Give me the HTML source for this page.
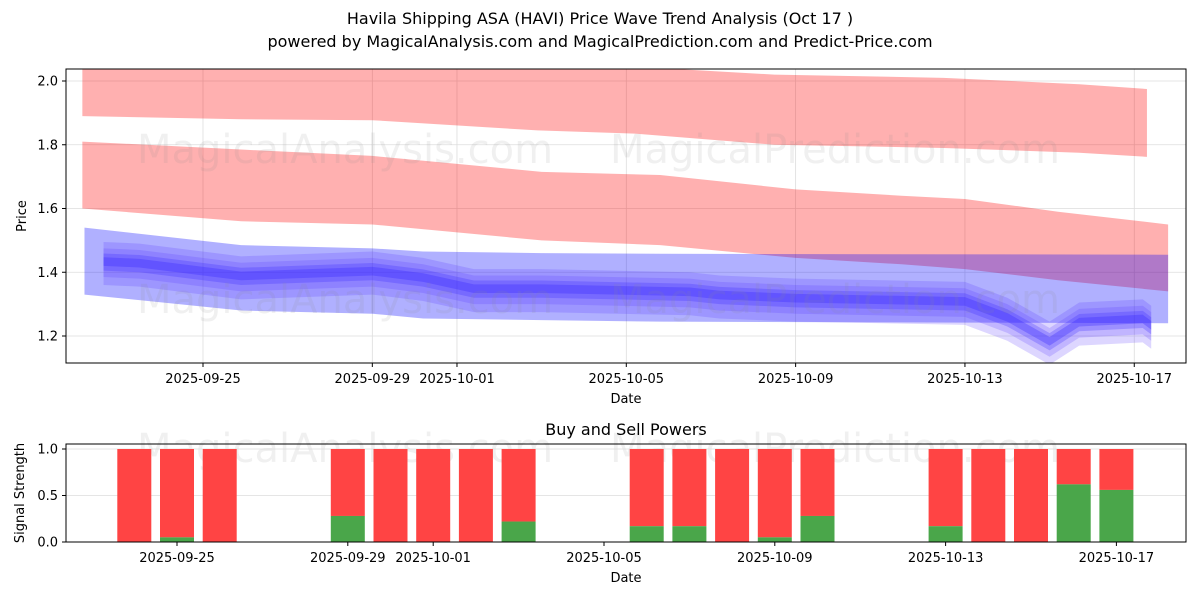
<!DOCTYPE html>
<html><head><meta charset="utf-8"><style>
body{margin:0;background:#fff}
svg{font-family:"DejaVu Sans","Liberation Sans",sans-serif}
</style></head><body>
<svg id="c" width="1200" height="600" xmlns="http://www.w3.org/2000/svg"></svg>
<script>
// ---- data ----
const priceTicks=[1.2,1.4,1.6,1.8,2.0];
const dateTicks=["2025-09-25","2025-09-29","2025-10-01","2025-10-05","2025-10-09","2025-10-13","2025-10-17"];
const dateTickDays=[0,4,6,10,14,18,22];
// bands: day offsets from 2025-09-25, upper and lower prices
const redUpDays=[-2.85,0.9,4,7.9,10.2,13.5,17.5,20.7,22.3];
const redUpTop=[2.045,2.045,2.045,2.045,2.045,2.02,2.01,1.99,1.975];
const redUpBot=[1.89,1.88,1.877,1.845,1.835,1.80,1.79,1.775,1.762];
const redLoDays=[-2.85,0.9,4,8,10.8,14,16.5,18,20.2,22.8];
const redLoTop=[1.81,1.785,1.765,1.715,1.705,1.66,1.64,1.63,1.59,1.55];
const redLoBot=[1.6,1.56,1.55,1.50,1.485,1.445,1.425,1.41,1.375,1.34];
const blueDays=[-2.8,0.9,4,5.2,8,10.8,22.8];
const blueTop=[1.54,1.485,1.475,1.465,1.46,1.458,1.455];
const blueBot=[1.33,1.28,1.27,1.255,1.25,1.245,1.24];
const midDays=[-2.35,-1.5,0.9,4,5.2,6.4,8,11.5,12.2,14,18,19,20,20.7,22.2,22.4];
const midVal=[1.435,1.43,1.39,1.405,1.385,1.35,1.35,1.34,1.33,1.32,1.31,1.26,1.185,1.245,1.255,1.235];
// buy/sell
const barDays=[-1,0,1,4,5,6,7,8,11,12,13,14,15,18,19,20,21,22];
const buyVals=[0,0.05,0,0.28,0,0,0,0.22,0.17,0.17,0,0.05,0.28,0.17,0,0,0.62,0.56];
const sigTicks=[0,0.5,1.0];

const NS="http://www.w3.org/2000/svg";
const svg=document.getElementById('c');
function el(t,a,p){const e=document.createElementNS(NS,t);for(const k in a)e.setAttribute(k,a[k]);(p||svg).appendChild(e);return e;}
function tx(x,y,s,a){const e=el('text',Object.assign({x:x,y:y,'font-size':13,fill:'#000'},a||{}));e.textContent=s;return e;}
const X1=d=>203+d*42.33;
const Y1=v=>336-(v-1.2)*318.75;
const X2=d=>177+d*42.7;
const Y2=v=>542-v*93;

let t=tx(600,24,"Havila Shipping ASA (HAVI) Price Wave Trend Analysis (Oct 17 )",{'font-size':16,'text-anchor':'middle'});

t=tx(600,47,"powered by MagicalAnalysis.com and MagicalPrediction.com and Predict-Price.com",{'font-size':16,'text-anchor':'middle'});


const g1=el('g',{});

priceTicks.forEach(v=>{el('line',{x1:66,x2:1186,y1:Y1(v),y2:Y1(v),stroke:'#ddd','stroke-width':0.8},g1);});
dateTickDays.forEach(d=>{el('line',{x1:X1(d),x2:X1(d),y1:69,y2:363,stroke:'#ddd','stroke-width':0.8},g1);});

const clip=el('clipPath',{id:'cp'});el('rect',{x:66,y:69,width:1120,height:294},clip);
const plot=el('g',{'clip-path':'url(#cp)'});
function band(days,top,bot,fill,op,name){
  let pts=days.map((d,i)=>X1(d)+','+Y1(top[i]));
  for(let i=days.length-1;i>=0;i--)pts.push(X1(days[i])+','+Y1(bot[i]));
  const p=el('polygon',{points:pts.join(' '),fill:fill,'fill-opacity':op},plot);
  
}
band(redUpDays,redUpTop,redUpBot,'#ff0000',0.31,'red-band-upper');
band(redLoDays,redLoTop,redLoBot,'#ff0000',0.31,'red-band-lower');
band(blueDays,blueTop,blueBot,'#0000ff',0.31,'blue-band-wide');
[[0.075,0.15],[0.05,0.15],[0.03,0.2],[0.015,0.25]].forEach((w,k)=>{
  band(midDays,midVal.map(v=>v+w[0]*0.8),midVal.map(v=>v-w[0]),k<2?'#5533ff':'#3322ff',w[1]+0.05,'blue-band-inner-'+k);
});

[[345,163,"MagicalAnalysis.com"],[835,163,"MagicalPrediction.com"],[345,313,"MagicalAnalysis.com"],[835,313,"MagicalPrediction.com"],[345,462,"MagicalAnalysis.com"],[835,462,"MagicalPrediction.com"]].forEach(w=>{
  const e=tx(w[0],w[1],w[2],{'font-size':40,'text-anchor':'middle',fill:'#888','fill-opacity':0.13});
  
});

el('rect',{x:66,y:69,width:1120,height:294,fill:'none',stroke:'#000','stroke-width':1});
priceTicks.forEach(v=>{el('line',{x1:62,x2:66,y1:Y1(v),y2:Y1(v),stroke:'#000'});
  const e=tx(58,Y1(v)+4.5,v.toFixed(1),{'text-anchor':'end'});});
dateTickDays.forEach((d,i)=>{el('line',{x1:X1(d),x2:X1(d),y1:363,y2:367,stroke:'#000'});
  const e=tx(X1(d),383,dateTicks[i],{'text-anchor':'middle'});});
t=tx(626,403,"Date",{'text-anchor':'middle'});
t=tx(26,216,"Price",{'text-anchor':'middle',transform:'rotate(-90 26 216)'});

t=tx(626,435,"Buy and Sell Powers",{'font-size':16,'text-anchor':'middle'});
sigTicks.forEach(v=>{el('line',{x1:66,x2:1186,y1:Y2(v),y2:Y2(v),stroke:'#ddd','stroke-width':0.8});});
barDays.forEach((d,i)=>{
  const x=X2(d)-17;
  const r=el('rect',{x:x,y:Y2(1),width:34,height:Y2(buyVals[i])-Y2(1),fill:'#ff4444'});
  
  const g=el('rect',{x:x,y:Y2(buyVals[i]),width:34,height:Y2(0)-Y2(buyVals[i]),fill:'#4aa64a'});
  
});
el('rect',{x:66,y:444,width:1120,height:98,fill:'none',stroke:'#000','stroke-width':1});
sigTicks.forEach(v=>{el('line',{x1:62,x2:66,y1:Y2(v),y2:Y2(v),stroke:'#000'});
  const e=tx(58,Y2(v)+4.5,v.toFixed(1),{'text-anchor':'end'});});
dateTickDays.forEach((d,i)=>{el('line',{x1:X2(d),x2:X2(d),y1:542,y2:546,stroke:'#000'});
  const e=tx(X2(d),562,dateTicks[i],{'text-anchor':'middle'});});
t=tx(626,582,"Date",{'text-anchor':'middle'});
t=tx(24,493,"Signal Strength",{'text-anchor':'middle',transform:'rotate(-90 24 493)'});
</script>
</body></html>
